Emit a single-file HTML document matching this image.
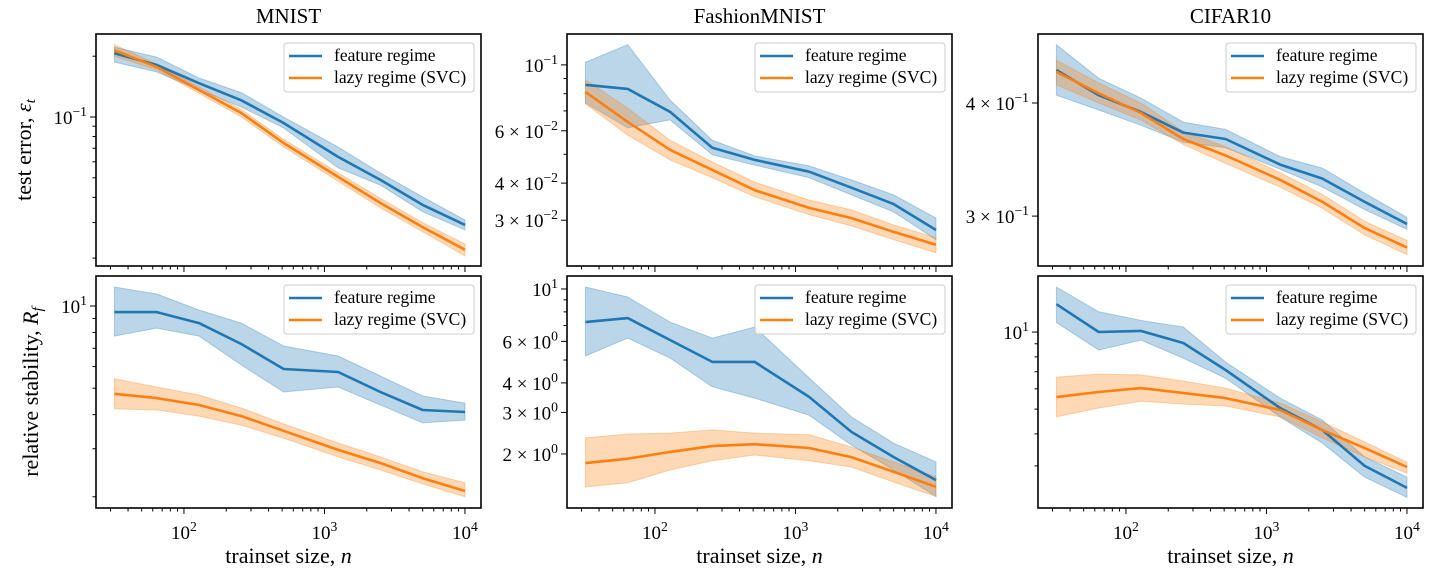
<!DOCTYPE html>
<html><head><meta charset="utf-8">
<style>
html,body{margin:0;padding:0;background:#fff;}
svg{display:block;font-family:"Liberation Serif","DejaVu Serif",serif;}
</style></head>
<body>
<svg id="fig" width="1446" height="586" viewBox="0 0 1446 586" xmlns="http://www.w3.org/2000/svg"></svg>
<script>
const trainSizes=[32,64,128,256,512,1250,2500,5000,10000];
const xTickLabels=["10^2","10^3","10^4"];
const xTickValues=[100,1000,10000];

const mnistErrFeat=[0.207,0.181,0.147,0.121,0.0934,0.0634,0.0488,0.0367,0.0292];
const mnistErrFeatHi=[0.222,0.198,0.156,0.132,0.1,0.071,0.0528,0.0402,0.0309];
const mnistErrFeatLo=[0.187,0.167,0.136,0.112,0.0882,0.056,0.046,0.0339,0.0276];
const mnistErrLazy=[0.214,0.177,0.136,0.1047,0.0743,0.0505,0.0375,0.0285,0.022];
const mnistErrLazyHi=[0.228,0.183,0.141,0.109,0.0775,0.053,0.0395,0.030,0.0235];
const mnistErrLazyLo=[0.200,0.171,0.131,0.100,0.071,0.048,0.0355,0.027,0.0205];

const fashionErrFeat=[0.0857,0.083,0.0695,0.0526,0.0479,0.0437,0.0386,0.034,0.0278];
const fashionErrFeatHi=[0.102,0.117,0.0762,0.0558,0.0494,0.0457,0.041,0.0365,0.0305];
const fashionErrFeatLo=[0.0745,0.0614,0.0653,0.0498,0.046,0.0417,0.0365,0.032,0.0258];
const fashionErrLazy=[0.0811,0.0643,0.0518,0.0443,0.0379,0.033,0.0305,0.0274,0.0248];
const fashionErrLazyHi=[0.0891,0.0716,0.0558,0.0471,0.0403,0.0351,0.0325,0.0289,0.0262];
const fashionErrLazyLo=[0.074,0.058,0.0479,0.0417,0.036,0.0313,0.0287,0.0258,0.0233];

const cifarErrFeat=[0.435,0.408,0.391,0.371,0.365,0.342,0.330,0.311,0.294];
const cifarErrFeatHi=[0.464,0.426,0.405,0.381,0.374,0.349,0.339,0.318,0.299];
const cifarErrFeatLo=[0.408,0.393,0.378,0.362,0.357,0.338,0.323,0.305,0.290];
const cifarErrLazy=[0.433,0.410,0.390,0.365,0.350,0.329,0.311,0.291,0.277];
const cifarErrLazyHi=[0.446,0.421,0.4,0.372,0.358,0.335,0.317,0.296,0.282];
const cifarErrLazyLo=[0.419,0.4,0.383,0.360,0.343,0.323,0.306,0.286,0.272];

const mnistStabFeat=[9.5,9.5,8.66,7.26,5.88,5.73,4.84,4.16,4.09];
const mnistStabFeatHi=[11.74,11.07,9.67,8.66,7.14,6.56,5.54,4.68,4.41];
const mnistStabFeatLo=[7.76,8.3,7.76,6.08,4.84,5.05,4.34,3.73,3.82];
const mnistStabLazy=[4.77,4.6,4.34,3.95,3.49,2.97,2.66,2.34,2.10];
const mnistStabLazyHi=[5.41,5.05,4.72,4.23,3.70,3.15,2.80,2.47,2.25];
const mnistStabLazyLo=[4.2,4.16,3.95,3.66,3.28,2.80,2.51,2.23,2.0];

const fashionStabFeat=[7.24,7.53,6.08,4.91,4.91,3.49,2.48,1.94,1.55];
const fashionStabFeatHi=[10.2,9.25,7.24,6.19,6.9,4.2,2.87,2.22,1.85];
const fashionStabFeatLo=[5.2,6.19,5.1,3.85,3.45,2.92,2.18,1.71,1.32];
const fashionStabLazy=[1.83,1.91,2.04,2.16,2.2,2.12,1.94,1.68,1.45];
const fashionStabLazyHi=[2.34,2.43,2.45,2.53,2.45,2.41,2.14,1.85,1.6];
const fashionStabLazyLo=[1.45,1.51,1.71,1.87,1.98,1.87,1.76,1.52,1.32];

const cifarStabFeat=[12.85,10,10.1,9.06,7.11,5.05,4.14,3.0,2.46];
const cifarStabFeatHi=[15.0,12.0,11.1,10.46,7.64,5.52,4.53,3.25,2.71];
const cifarStabFeatLo=[10.9,8.5,9.3,7.9,6.6,4.66,3.68,2.71,2.26];
const cifarStabLazy=[5.57,5.83,6.04,5.78,5.52,4.96,4.14,3.52,2.97];
const cifarStabLazyHi=[6.67,6.85,6.8,6.44,6.04,5.28,4.45,3.72,3.1];
const cifarStabLazyLo=[4.66,5.05,5.37,5.23,5.14,4.66,3.86,3.25,2.81];

const mnistErrTicks=[["10^-1",0.1]];
const fashionErrTicks=[["10^-1",0.1],["6 × 10^-2",0.06],["4 × 10^-2",0.04],["3 × 10^-2",0.03]];
const cifarErrTicks=[["4 × 10^-1",0.4],["3 × 10^-1",0.3]];
const mnistStabTicks=[["10^1",10]];
const fashionStabTicks=[["10^1",10],["6 × 10^0",6],["4 × 10^0",4],["3 × 10^0",3],["2 × 10^0",2]];
const cifarStabTicks=[["10^1",10]];

const titles=["MNIST","FashionMNIST","CIFAR10"];

const NS="http://www.w3.org/2000/svg";
const svg=document.getElementById('fig');
const BLUE="#1f77b4",ORANGE="#ff7f0e";
const W=385,H=232,XMIN=1.374,DEC=140.5;
const lefts=[96,567,1038],tops=[34,276];

function mk(tag,attrs,parent){const e=document.createElementNS(NS,tag);for(const k in attrs)e.setAttribute(k,attrs[k]);(parent||svg).appendChild(e);return e;}
function texLabel(parent,str,x,y,anchor,size){
  const t=mk('text',{x:x,y:y,'text-anchor':anchor,'font-size':size,fill:'#000'},parent);
  const parts=str.split('^');
  t.appendChild(document.createTextNode(parts[0]));
  if(parts[1]!==undefined){const s=mk('tspan',{'font-size':size*0.72,dy:-size*0.42},t);s.textContent=parts[1].replace('-','−');}
  return t;
}

const panels=[
 {r:0,c:0,lt:-0.589,lb:-1.738,ticks:mnistErrTicks,f:mnistErrFeat,fh:mnistErrFeatHi,fl:mnistErrFeatLo,l:mnistErrLazy,lh:mnistErrLazyHi,ll:mnistErrLazyLo,name:'mnist-test-error'},
 {r:0,c:1,lt:-0.896,lb:-1.677,ticks:fashionErrTicks,f:fashionErrFeat,fh:fashionErrFeatHi,fl:fashionErrFeatLo,l:fashionErrLazy,lh:fashionErrLazyHi,ll:fashionErrLazyLo,name:'fashion-test-error'},
 {r:0,c:2,lt:-0.3217,lb:-0.578,ticks:cifarErrTicks,f:cifarErrFeat,fh:cifarErrFeatHi,fl:cifarErrFeatLo,l:cifarErrLazy,lh:cifarErrLazyHi,ll:cifarErrLazyLo,name:'cifar-test-error'},
 {r:1,c:0,lt:1.11,lb:0.26,ticks:mnistStabTicks,f:mnistStabFeat,fh:mnistStabFeatHi,fl:mnistStabFeatLo,l:mnistStabLazy,lh:mnistStabLazyHi,ll:mnistStabLazyLo,name:'mnist-stability'},
 {r:1,c:1,lt:1.055,lb:0.072,ticks:fashionStabTicks,f:fashionStabFeat,fh:fashionStabFeatHi,fl:fashionStabFeatLo,l:fashionStabLazy,lh:fashionStabLazyHi,ll:fashionStabLazyLo,name:'fashion-stability'},
 {r:1,c:2,lt:1.219,lb:0.3125,ticks:cifarStabTicks,f:cifarStabFeat,fh:cifarStabFeatHi,fl:cifarStabFeatLo,l:cifarStabLazy,lh:cifarStabLazyHi,ll:cifarStabLazyLo,name:'cifar-stability'}
];

panels.forEach(p=>{
  const L=lefts[p.c],T=tops[p.r];
  const g=mk('g',{});
  
  
  const xs=v=>L+(Math.log10(v)-XMIN)*DEC;
  const ys=v=>T+(p.lt-Math.log10(v))/(p.lt-p.lb)*H;
  const pts=arr=>arr.map((v,i)=>xs(trainSizes[i]).toFixed(1)+','+ys(v).toFixed(1));
  function band(hi,lo,col,nm){
    const d='M'+pts(hi).join('L')+'L'+pts(lo).reverse().join('L')+'Z';
    const b=mk('path',{d:d,fill:col,'fill-opacity':0.3,stroke:col,'stroke-opacity':0.3,'stroke-width':1},g);
    
    
  }
  function line(arr,col,nm){
    const l=mk('polyline',{points:pts(arr).join(' '),fill:'none',stroke:col,'stroke-width':2.6,'stroke-linejoin':'round'},g);
    
    
  }
  band(p.fh,p.fl,BLUE,'feature-band');
  band(p.lh,p.ll,ORANGE,'lazy-band');
  line(p.f,BLUE,'feature-line');
  line(p.l,ORANGE,'lazy-line');
  const fr=mk('rect',{x:L,y:T,width:W,height:H,fill:'none',stroke:'#000','stroke-width':1.6},g);
  
  
  const xt=mk('g',{stroke:'#000','stroke-width':1},g);
  
  
  for(let e=1;e<=4;e++)for(let m=1;m<=9;m++){
    const v=m*Math.pow(10,e),lx=Math.log10(v);
    if(lx<XMIN||lx>XMIN+W/DEC)continue;
    const x=xs(v);
    mk('line',{x1:x,x2:x,y1:T+H,y2:T+H+(m===1?6:3.5)},xt);
  }
  if(p.r===1){
    xTickValues.forEach((v,i)=>{
      const t=texLabel(g,xTickLabels[i],xs(v),T+H+31,'middle',19);
      
      
    });
    const xl=mk('text',{x:L+W/2,y:T+H+55,'text-anchor':'middle','font-size':22},g);
    
    
    xl.appendChild(document.createTextNode('trainset size, '));
    const it=mk('tspan',{'font-style':'italic'},xl);it.textContent='n';
  }
  const yt=mk('g',{stroke:'#000','stroke-width':1},g);
  
  
  for(let e=-3;e<=2;e++)for(let m=1;m<=9;m++){
    const v=m*Math.pow(10,e),ly=Math.log10(v);
    if(ly>p.lt||ly<p.lb)continue;
    const labeled=p.ticks.some(t=>Math.abs(t[1]-v)<1e-9);
    const y=ys(v);
    mk('line',{x1:L,x2:L-((m===1||labeled)?6:3.5),y1:y,y2:y},yt);
  }
  p.ticks.forEach(t=>{
    const lb=texLabel(g,t[0],L-9,ys(t[1])+7,'end',19);
    
    
  });
  const lg=mk('g',{},g);
  
  
  const lw=190,lx0=L+W-lw-7,ly0=T+9;
  mk('rect',{x:lx0,y:ly0,width:lw,height:49,rx:3,fill:'#fff','fill-opacity':0.8,stroke:'#ccc','stroke-width':1},lg);
  [[BLUE,'feature regime'],[ORANGE,'lazy regime (SVC)']].forEach((e,i)=>{
    const yy=ly0+13+i*22;
    const en=mk('g',{},lg);
    
    
    mk('line',{x1:lx0+5,x2:lx0+38,y1:yy,y2:yy,stroke:e[0],'stroke-width':2.6},en);
    const tx=mk('text',{x:lx0+50,y:yy+5,'font-size':17.5},en);tx.textContent=e[1];
  });
  if(p.r===0){
    const tt=mk('text',{x:L+W/2,y:23,'text-anchor':'middle','font-size':21},g);
    tt.textContent=titles[p.c];
    
    
  }
});
const yl1=mk('text',{x:0,y:0,'text-anchor':'middle','font-size':22,transform:'translate(31,150) rotate(-90)'});


yl1.appendChild(document.createTextNode('test error, '));
{const a=mk('tspan',{'font-style':'italic'},yl1);a.textContent='ε';const b=mk('tspan',{'font-style':'italic','font-size':15,dy:4},yl1);b.textContent='t';}
const yl2=mk('text',{x:0,y:0,'text-anchor':'middle','font-size':22,transform:'translate(38,392) rotate(-90)'});


yl2.appendChild(document.createTextNode('relative stability, '));
{const a=mk('tspan',{'font-style':'italic'},yl2);a.textContent='R';const b=mk('tspan',{'font-style':'italic','font-size':15,dy:4},yl2);b.textContent='f';}
</script>
</body></html>
